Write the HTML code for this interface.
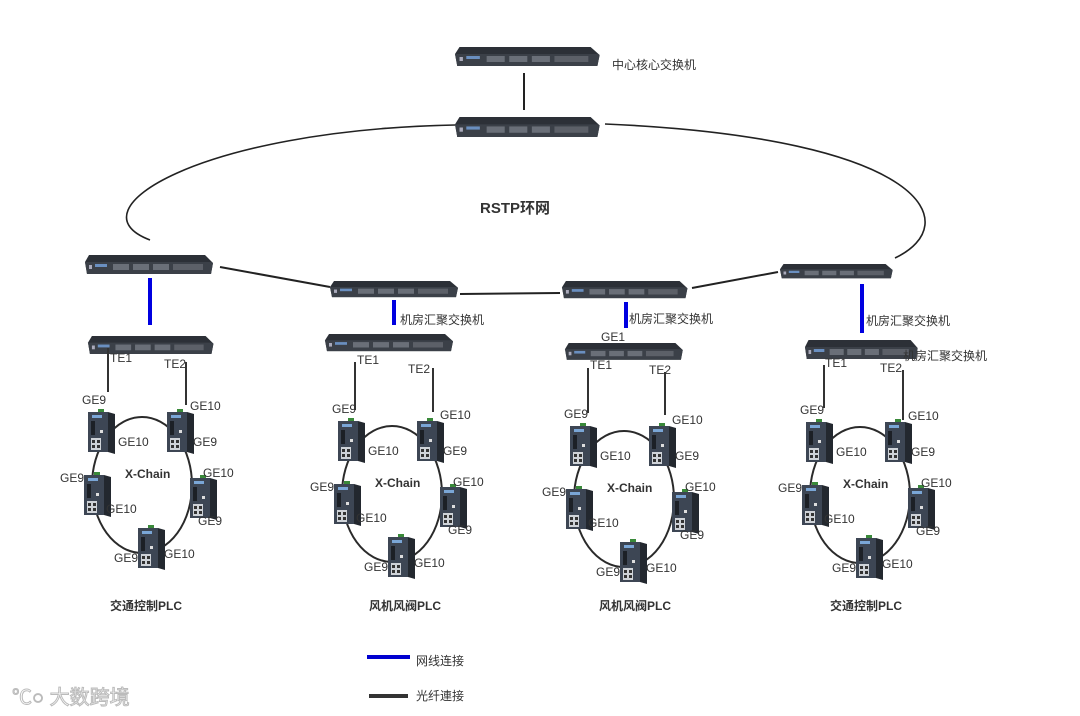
<!DOCTYPE html>
<html><head><meta charset="utf-8"><style>
html,body{margin:0;padding:0;background:#fff;}
svg{display:block;font-family:"Liberation Sans","Noto Sans CJK SC",sans-serif;}
.t{font-size:12px;fill:#333;}
.c{font-size:12px;fill:#333;}
.b{font-size:12px;font-weight:bold;fill:#333;}
</style></head><body>
<svg width="1080" height="716" viewBox="0 0 1080 716" xmlns="http://www.w3.org/2000/svg">
<defs>
<g id="rack">
 <polygon points="4,0 120,0 128,8 126,19 2,19 0,7" fill="#2c3037"/>
 <polygon points="0,7 126,7 128,8 126,19 2,19" fill="#3b4048"/>
 <rect x="4" y="10" width="3" height="4" fill="#aab"/>
 <rect x="10" y="9" width="12" height="3" fill="#6a8fc0"/>
 <rect x="28" y="9" width="16" height="6" fill="#6a6f78"/>
 <rect x="48" y="9" width="16" height="6" fill="#6a6f78"/>
 <rect x="68" y="9" width="16" height="6" fill="#6a6f78"/>
 <rect x="88" y="9" width="30" height="6" fill="#5c6068"/>
</g>
<g id="dev">
 <rect x="10" y="-3" width="6" height="4" fill="#3a8a3a"/>
 <rect x="0" y="0" width="20" height="40" fill="#3d4654"/>
 <polygon points="20,0 27,2 27,42 20,40" fill="#23282f"/>
 <rect x="4" y="3" width="10" height="3" fill="#7aa6d6"/>
 <rect x="3" y="9" width="4" height="14" fill="#1c2026"/>
 <rect x="12" y="18" width="3" height="3" fill="#ddd"/>
 <rect x="3" y="26" width="10" height="12" fill="#cfd3d8"/>
 <rect x="4" y="28" width="3" height="3" fill="#333"/><rect x="9" y="28" width="3" height="3" fill="#333"/>
 <rect x="4" y="33" width="3" height="3" fill="#333"/><rect x="9" y="33" width="3" height="3" fill="#333"/>
</g>
<g id="chain">
 <ellipse cx="142" cy="485" rx="50" ry="68" fill="none" stroke="#2a2a2a" stroke-width="2"/>
 <use href="#dev" x="88" y="412"/>
 <use href="#dev" x="167" y="412"/>
 <use href="#dev" x="84" y="475"/>
 <use href="#dev" x="190" y="478"/>
 <use href="#dev" x="138" y="528"/>
 <text class="b" x="125" y="478">X-Chain</text>
 <text class="t" x="82" y="404">GE9</text>
 <text class="t" x="190" y="410">GE10</text>
 <text class="t" x="118" y="446">GE10</text>
 <text class="t" x="193" y="446">GE9</text>
 <text class="t" x="203" y="477">GE10</text>
 <text class="t" x="60" y="482">GE9</text>
 <text class="t" x="106" y="513">GE10</text>
 <text class="t" x="198" y="525">GE9</text>
 <text class="t" x="114" y="562">GE9</text>
 <text class="t" x="164" y="558">GE10</text>
</g>
</defs>

<path d="M455,125 C200,130 70,210 150,240" fill="none" stroke="#222" stroke-width="1.6"/>
<path d="M605,124 C930,138 965,225 895,258" fill="none" stroke="#222" stroke-width="1.6"/>
<line x1="220" y1="267" x2="330" y2="287" stroke="#222" stroke-width="2"/>
<line x1="460" y1="294" x2="560" y2="293" stroke="#222" stroke-width="2"/>
<line x1="692" y1="288" x2="778" y2="272" stroke="#222" stroke-width="2"/>
<line x1="524" y1="73" x2="524" y2="110" stroke="#222" stroke-width="2"/>

<use href="#rack" transform="translate(455,47) scale(1.13,1)"/>
<use href="#rack" transform="translate(455,117) scale(1.13,1.05)"/>
<text class="c" x="612" y="69">中心核心交换机</text>
<text x="480" y="213" style="font-size:15px;font-weight:bold;fill:#333">RSTP环网</text>

<use href="#rack" x="85" y="255"/>
<use href="#rack" transform="translate(330,281) scale(1,0.85)"/>
<use href="#rack" transform="translate(562,281) scale(0.98,0.9)"/>
<use href="#rack" transform="translate(780,264) scale(0.88,0.75)"/>

<g stroke="#0000e0" stroke-width="4">
<line x1="150" y1="278" x2="150" y2="325"/>
<line x1="394" y1="300" x2="394" y2="325"/>
<line x1="626" y1="302" x2="626" y2="328"/>
<line x1="862" y1="284" x2="862" y2="333"/>
</g>
<text class="c" x="400" y="324">机房汇聚交换机</text>
<text class="c" x="629" y="323">机房汇聚交换机</text>
<text class="c" x="866" y="325">机房汇聚交换机</text>

<use href="#rack" transform="translate(88,336) scale(0.98,0.95)"/>
<use href="#rack" transform="translate(325,334) scale(1,0.9)"/>
<use href="#rack" transform="translate(565,343) scale(0.92,0.88)"/>
<use href="#rack" transform="translate(805,340) scale(0.88,1)"/>
<text class="c" x="903" y="360">机房汇聚交换机</text>
<text class="t" x="601" y="341">GE1</text>

<g stroke="#333" stroke-width="2">
<line x1="108" y1="348" x2="108" y2="392"/><line x1="186" y1="362" x2="186" y2="405"/>
<line x1="355" y1="362" x2="355" y2="410"/><line x1="433" y1="368" x2="433" y2="412"/>
<line x1="588" y1="368" x2="588" y2="413"/><line x1="665" y1="372" x2="665" y2="415"/>
<line x1="824" y1="365" x2="824" y2="408"/><line x1="903" y1="370" x2="903" y2="420"/>
</g>
<text class="t" x="110" y="362">TE1</text><text class="t" x="164" y="368">TE2</text>
<text class="t" x="357" y="364">TE1</text><text class="t" x="408" y="373">TE2</text>
<text class="t" x="590" y="369">TE1</text><text class="t" x="649" y="374">TE2</text>
<text class="t" x="825" y="367">TE1</text><text class="t" x="880" y="372">TE2</text>

<use href="#chain"/>
<use href="#chain" x="250" y="9"/>
<use href="#chain" x="482" y="14"/>
<use href="#chain" x="718" y="10"/>

<text class="b" x="146" y="610" text-anchor="middle">交通控制PLC</text>
<text class="b" x="405" y="610" text-anchor="middle">风机风阀PLC</text>
<text class="b" x="635" y="610" text-anchor="middle">风机风阀PLC</text>
<text class="b" x="866" y="610" text-anchor="middle">交通控制PLC</text>

<line x1="367" y1="657" x2="410" y2="657" stroke="#0000d0" stroke-width="4"/>
<text class="c" x="416" y="665">网线连接</text>
<line x1="369" y1="696" x2="408" y2="696" stroke="#333" stroke-width="4"/>
<text class="c" x="416" y="700">光纤連接</text>
<text x="12" y="704" style="font-size:20px;fill:#fff;stroke:#bbb;stroke-width:1">℃○ 大数跨境</text>
</svg>
</body></html>
